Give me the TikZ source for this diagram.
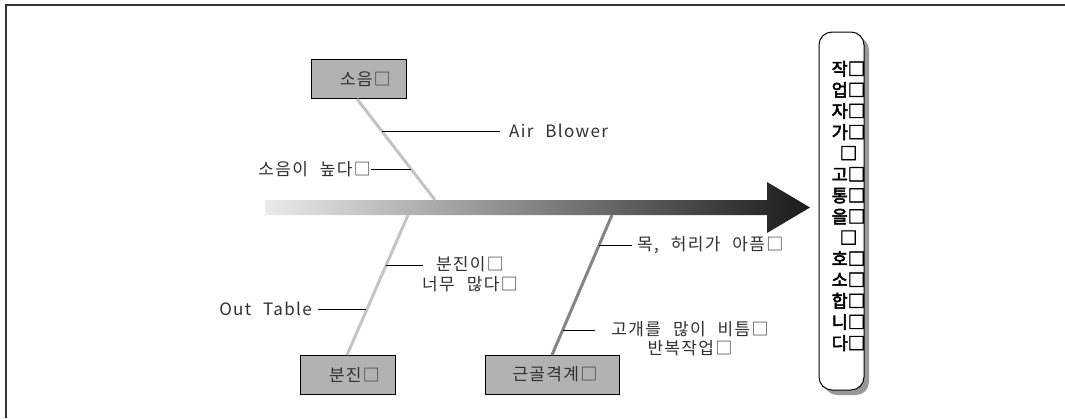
\documentclass[tikz,border=0pt]{standalone}
\usepackage{fontspec}
\setmainfont{Noto Sans CJK KR}[WordSpace=2.3,LetterSpace=8]
\newfontfamily\boldkr{Noto Sans CJK KR}[FakeBold=3]
\usetikzlibrary{shadows}
\definecolor{framec}{HTML}{333333}
\definecolor{boxfill}{HTML}{B2B2B2}
\definecolor{lightbone}{HTML}{C4C4C4}
\definecolor{darkbone}{HTML}{858585}
\definecolor{txt}{HTML}{303030}
\tikzset{
  causebox/.style={draw=black, line width=1pt, fill=boxfill, minimum height=39pt, inner sep=0pt, font=\fontsize{17}{19}\selectfont, text=txt},
  bonelight/.style={draw=lightbone, line width=3pt},
  bonedark/.style={draw=darkbone, line width=3pt},
  subline/.style={draw=black, line width=0.8pt},
  lbl/.style={font=\fontsize{17}{19.5}\selectfont, text=txt, inner sep=0pt, align=center},
}
\begin{document}
\begin{tikzpicture}[x=1pt,y=-1pt]
\useasboundingbox (0,0) rectangle (1065,418);
% frame
\draw[framec, line width=1.8pt] (6,418) -- (6,5) -- (1065,5);
% spine arrow
\shade[left color=black!8, right color=black!90]
  (265,200) -- (767,200) -- (767,182) -- (810,207.5) -- (767,233) -- (767,215) -- (265,215) -- cycle;
% spine coordinates
\coordinate (s1) at (435,200);
\coordinate (s2) at (408,215);
\coordinate (s3) at (612,215);
% cause boxes
\node[causebox, minimum width=95pt] (noise) at (358.5,79) {\hspace*{14pt}소음□};
\node[causebox, minimum width=95pt] (dust) at (347.5,374.5) {\hspace*{14pt}분진□};
\node[causebox, minimum width=134pt] (musc) at (552,374.5) {\hspace*{6pt}근골격계□};
% bones
\draw[bonelight] (357,99) -- (s1);
\draw[bonelight] (s2) -- (347,355);
\draw[bonedark] (s3) -- (552,355);
% sub causes
\coordinate (b1) at (382,131);
\coordinate (b2) at (411,169);
\coordinate (b3) at (386,265);
\coordinate (b4) at (366,309);
\coordinate (b5) at (599,245);
\coordinate (b6) at (563,330);
\node[lbl, anchor=west] (airblower) at (509,131) {Air Blower};
\draw[subline] (b1) -- (airblower.west -| 500,0);
\node[lbl, anchor=east] (loud) at (371,169) {소음이 높다□};
\draw[subline] (b2) -- (loud.east);
\node[lbl] (dusty) at (470,274) {분진이□\\너무 많다□};
\draw[subline] (b3) -- (423,265);
\node[lbl, anchor=east] (outtable) at (312,309) {Out Table};
\draw[subline] (b4) -- (318,309);
\node[lbl, anchor=west] (neck) at (637,245) {목, 허리가 아픔□};
\draw[subline] (b5) -- (632,245);
\node[lbl] (twist) at (690,338.5) {고개를 많이 비틈□\\반복작업□};
\draw[subline] (b6) -- (595,330);
% effect box
\node[draw=black, line width=1pt, fill=white, rounded corners=13pt, minimum width=45pt, minimum height=358pt,
      drop shadow={shadow xshift=5pt, shadow yshift=-5pt, fill=black!40, opacity=1}] (effect) at (841.5,211) {};
\node[align=center, inner sep=0pt, text=black, font=\boldkr\fontsize{17.5}{21.1}\selectfont] (effecttext) at (848.5,206)
  {작□\\업□\\자□\\가□\\□\\고□\\통□\\을□\\□\\호□\\소□\\합□\\니□\\다□};
\end{tikzpicture}
\end{document}
